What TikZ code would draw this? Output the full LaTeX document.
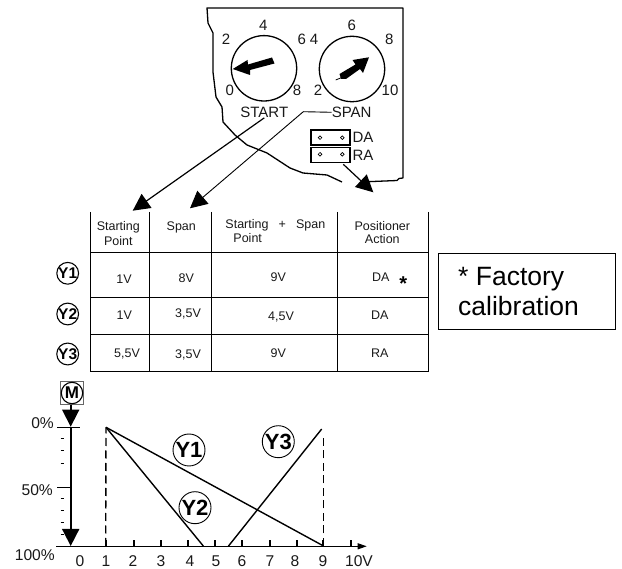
\documentclass[tikz,border=0pt]{standalone}
\usepackage{fontspec}
\setmainfont{Liberation Sans}
\usetikzlibrary{arrows.meta}
\tikzset{
  lbl/.style={inner sep=0pt,text depth=0pt,anchor=center},
  dialtxt/.style={lbl,font=\fontsize{15}{15}\selectfont,text height=10.7pt,text=black!90},
  axtxt/.style={lbl,font=\fontsize{15.6}{15.6}\selectfont,text height=11.2pt,text=black!90},
  tabtxt/.style={lbl,font=\fontsize{12.5}{12.5}\selectfont,text height=9pt,text=black!90},
  dial/.style={circle,draw,line width=1.3pt,minimum size=65.4pt,inner sep=0pt},
  tabline/.style={line width=1.1pt},
  smallmark/.style={circle,draw,line width=1.1pt,minimum size=21.4pt,inner sep=0pt,font=\fontsize{15.5}{15.5}\bfseries\selectfont},
  bigmark/.style={circle,draw,line width=.9pt,minimum size=32pt,inner sep=0pt,font=\fontsize{22}{22}\selectfont\bfseries},
  bighead/.style={-{Triangle[length=17pt,width=17pt]}},
  curve/.style={line width=1.4pt},
  guide/.style={line width=1.4pt,dash pattern=on 8pt off 4.5pt},
  jumper/.style={draw,line width=1.1pt,minimum width=39pt,minimum height=15pt,inner sep=0pt},
  pin/.style={circle,draw,line width=.7pt,minimum size=3.6pt,inner sep=0pt},
}
\begin{document}
\begin{tikzpicture}[x=1pt,y=-1pt]
\useasboundingbox (0,0) rectangle (622,569);
% panel outline
\draw[line width=1.3pt,line join=round]
  (342,182) -- (327,175) -- (303,173) -- (290,168) -- (267,153) -- (247,145) -- (235,135) -- (223,122)
  -- (222,107) -- (216,97) -- (213,72) -- (213,33) -- (208,23) -- (207,8) -- (403,8) -- (403,178) -- (399,178.5) -- (397,180.5) -- (368,181.7);
% dials
\node[dial] (dstart) at (264,68.3) {};
\node[dial] (dspan) at (352,69) {};
\fill (232.7,69) -- (247.5,60) -- (248,64.5) -- (272,57.5) -- (274.5,63.5) -- (250,70) -- (250,75) -- cycle;
\fill (369,57.3) -- (352.5,60) -- (355.5,64.5) -- (339.5,74) -- (341,79) -- (346,79) -- (360,69) -- (363,73) -- cycle;
\draw[line width=.8pt] (343,77) -- (335.7,80);
\node[dialtxt] at (263.3,25) {4};
\node[dialtxt] at (226,39.3) {2};
\node[dialtxt] at (301.7,38.7) {6};
\node[dialtxt] at (229.7,90.3) {0};
\node[dialtxt] at (297,89.7) {8};
\node[dialtxt] (lstart) at (264.3,112.3) {START};
\node[dialtxt] at (351.7,25) {6};
\node[dialtxt] at (314,39.3) {4};
\node[dialtxt] at (389.3,39.3) {8};
\node[dialtxt] at (318,90.3) {2};
\node[dialtxt] at (390,89.7) {10};
\node[dialtxt] (lspan) at (351.7,112.3) {SPAN};
% jumpers
\node[jumper] (jda) at (330.5,137.5) {};
\node[jumper] (jra) at (330.5,154.8) {};
\node[pin] at (320,137.7) {};
\node[pin] at (342.3,137.7) {};
\node[pin] at (320,154.3) {};
\node[pin] at (342.3,154.3) {};
\node[dialtxt,anchor=west] at (352.3,137.3) {DA};
\node[dialtxt,anchor=west] at (352.3,155) {RA};
% table
\draw[tabline] (90.7,212) -- (90.7,371.7);
\draw[tabline] (149.3,212) -- (149.3,371.7);
\draw[tabline] (211.7,212) -- (211.7,371.7);
\draw[tabline] (337.3,212) -- (337.3,371.7);
\draw[tabline] (428.3,212) -- (428.3,371.7);
\draw[tabline] (90.7,252.3) -- (428.3,252.3);
\draw[tabline] (90.7,297.3) -- (428.3,297.3);
\draw[tabline] (90.7,334.7) -- (429,334.7);
\draw[tabline] (90.7,371.7) -- (429,371.7);
\node[tabtxt] at (118.3,225.7) {Starting};
\node[tabtxt] at (118.3,240.7) {Point};
\node[tabtxt] (hspan) at (181.3,225.7) {Span};
\node[tabtxt] at (247,223.7) {Starting};
\node[tabtxt] at (282.3,224) {+};
\node[tabtxt] at (310.7,223.7) {Span};
\node[tabtxt] at (247.7,238.3) {Point};
\node[tabtxt] at (382.3,225.7) {Positioner};
\node[tabtxt] at (382.3,239.3) {Action};
\node[tabtxt] at (124,279) {1V};
\node[tabtxt] at (186.3,277.7) {8V};
\node[tabtxt] at (278.3,276.7) {9V};
\node[tabtxt] at (380.7,277.3) {DA};
\node[lbl,font=\fontsize{20}{20}\bfseries\selectfont] at (403.3,283.5) {*};
\node[tabtxt] at (124.3,314.7) {1V};
\node[tabtxt] at (188,312.7) {3,5V};
\node[tabtxt] at (281,315.7) {4,5V};
\node[tabtxt] at (379.7,314.7) {DA};
\node[tabtxt] at (127,352.7) {5,5V};
\node[tabtxt] at (188,353.7) {3,5V};
\node[tabtxt] at (278.3,352.7) {9V};
\node[tabtxt] at (379.7,352.7) {RA};
\node[smallmark] at (67.7,273.3) {Y1};
\node[smallmark] at (67.7,314) {Y2};
\node[smallmark] at (67.7,354) {Y3};
% leader arrows
\coordinate (tipa) at (132.7,210.7);
\coordinate (tipb) at (190,208.3);
\coordinate (tipc) at (373.3,192.3);
\coordinate (spanbend) at (303.3,111.7);
\coordinate (jout) at (343.3,164.3);
\draw[bighead,line width=1.2pt] (lstart.south) -- (tipa);
\draw[bighead,line width=.9pt] (lspan.west) -- (spanbend) -- (tipb);
\draw[bighead,line width=1.2pt] (jout) -- (tipc);
% note
\node[draw,line width=.8pt,minimum width=176.7pt,minimum height=76.6pt,anchor=north west,inner sep=0pt] (note) at (438.3,252.7) {};
\node[font=\fontsize{26.5}{26.5}\selectfont,inner sep=0pt,anchor=base west] at (458,286) {* Factory};
\node[font=\fontsize{26.5}{26.5}\selectfont,inner sep=0pt,anchor=base west] at (458,316) {calibration};
% chart
\node[draw=black!60,line width=.8pt,minimum size=22.6pt,inner sep=0pt] (mbox) at (72,393) {};
\node[smallmark,font=\fontsize{17}{17}\bfseries\selectfont] (m) at (72,393) {M};
\coordinate (tipm) at (70.7,426.7);
\coordinate (tipb2) at (70.7,546);
\draw[bighead,line width=1.7pt] (mbox.south -| tipm) -- (tipm);
\draw[bighead,line width=1.7pt] (tipm) -- (tipb2);
\coordinate (org) at (56,546.3);
\coordinate (axend) at (366.7,546.3);
\draw[-{Triangle[length=9pt,width=6pt]},line width=1.1pt] (org) -- (axend);
\draw[line width=1pt] (57,427.3) -- (80,427.3);
\draw[line width=1pt] (57,487.7) -- (70.7,487.7);
\foreach \y in {438.3,451,463.7,499,511,522.3,535}
  \draw[line width=1pt] (60.7,\y) -- (64,\y);
\foreach \x in {106,134,161,188,215,242,270,297,323,351}
  \draw[line width=1.1pt] (\x,540.5) -- (\x,546.3);
\coordinate (a) at (106,427.3);
\coordinate (b) at (323,545.7);
\coordinate (c) at (203.3,546);
\coordinate (d) at (228.3,546.3);
\coordinate (e) at (321.7,429);
\draw[curve] (a) -- (b);
\draw[curve] (a) -- (c);
\draw[curve] (d) -- (e);
\draw[guide] (105.7,546) -- (a);
\draw[guide] (323.3,546) -- (323.3,436.7);
\node[bigmark] at (189,450) {Y1};
\node[bigmark] at (195,507.7) {Y2};
\node[bigmark] at (278.3,441.7) {Y3};
\node[axtxt,anchor=east] at (54,423) {0\%};
\node[axtxt,anchor=east] at (53,490) {50\%};
\node[axtxt,anchor=east] at (55,555) {100\%};
\node[axtxt] at (80,561) {0};
\node[axtxt] at (106,561) {1};
\node[axtxt] at (133,561) {2};
\node[axtxt] at (161,561) {3};
\node[axtxt] at (190,561) {4};
\node[axtxt] at (216,561) {5};
\node[axtxt] at (242,561) {6};
\node[axtxt] at (270,561) {7};
\node[axtxt] at (295,561) {8};
\node[axtxt] at (323,561) {9};
\node[axtxt] at (359,561) {10V};
\end{tikzpicture}
\end{document}
